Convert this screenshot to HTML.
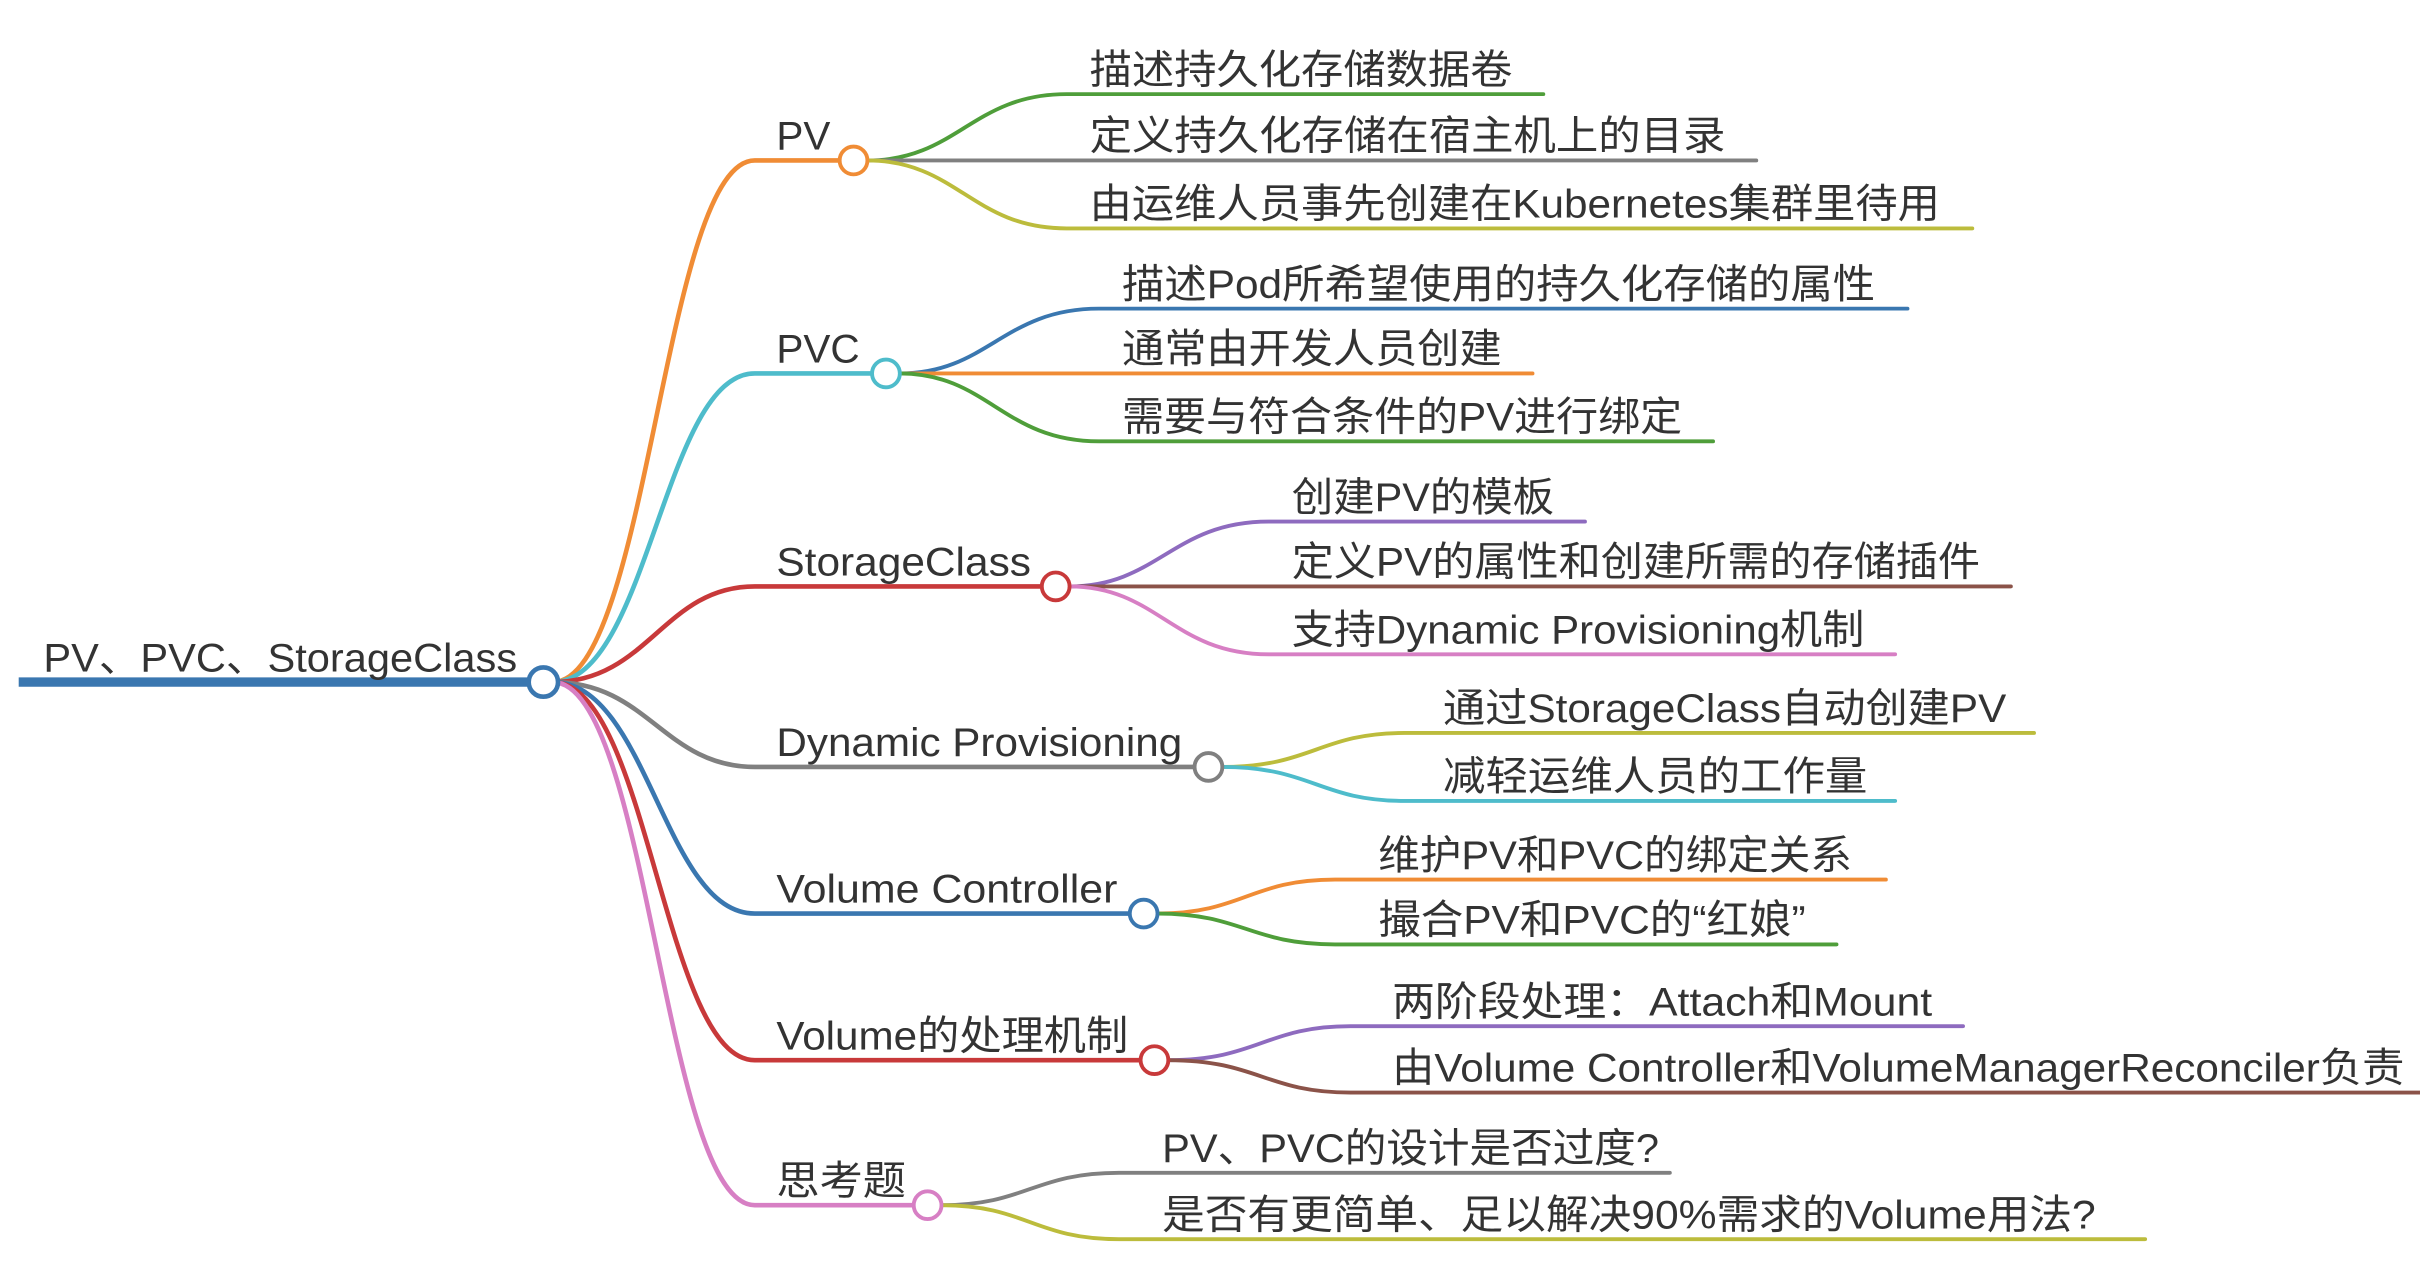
<!DOCTYPE html>
<html><head><meta charset="utf-8"><style>
html,body{margin:0;padding:0;background:#fff;}
svg{display:block;}
text{font-family:"Liberation Sans","Noto Sans CJK SC",sans-serif;fill:#333;font-size:26px;}
</style></head><body>
<svg width="2420" height="1270" viewBox="0 0 1568 823" xmlns="http://www.w3.org/2000/svg">
<g fill="none" stroke-linecap="round">
<!-- root branches -->
<path d="M358,442 C420,442 430,104 489,104 L553,104" stroke="#f08c35" stroke-width="3"/>
<path d="M358,442 C420,442 430,242 489,242 L574,242" stroke="#4ebccb" stroke-width="3"/>
<path d="M358,442 C420,442 430,380 489,380 L684,380" stroke="#c8393a" stroke-width="3"/>
<path d="M358,442 C420,442 430,497 489,497 L783,497" stroke="#808080" stroke-width="3"/>
<path d="M358,442 C420,442 430,592 489,592 L741,592" stroke="#3a77b0" stroke-width="3"/>
<path d="M358,442 C420,442 430,687 489,687 L748,687" stroke="#c8393a" stroke-width="3"/>
<path d="M358,442 C420,442 430,781 489,781 L601,781" stroke="#d77fc4" stroke-width="3"/>
<!-- PV children -->
<path d="M562,104 C620,104 630,61 691,61 L1000,61" stroke="#4f9e3a" stroke-width="2.5"/>
<path d="M562,104 L1138,104" stroke="#808080" stroke-width="2.5"/>
<path d="M562,104 C620,104 630,148 691,148 L1278,148" stroke="#bcbc3c" stroke-width="2.5"/>
<!-- PVC -->
<path d="M583,242 C640,242 650,200 712,200 L1236,200" stroke="#3a77b0" stroke-width="2.5"/>
<path d="M583,242 L993,242" stroke="#f08c35" stroke-width="2.5"/>
<path d="M583,242 C640,242 650,286 712,286 L1110,286" stroke="#4f9e3a" stroke-width="2.5"/>
<!-- SC -->
<path d="M693,380 C750,380 760,338 822,338 L1027,338" stroke="#8e6bbf" stroke-width="2.5"/>
<path d="M693,380 L1303,380" stroke="#8b5349" stroke-width="2.5"/>
<path d="M693,380 C750,380 760,424 822,424 L1228,424" stroke="#d77fc4" stroke-width="2.5"/>
<!-- DP -->
<path d="M792,497 C850,497 855,475 910,475 L1318,475" stroke="#bcbc3c" stroke-width="2.5"/>
<path d="M792,497 C850,497 855,519 910,519 L1228,519" stroke="#4ebccb" stroke-width="2.5"/>
<!-- VC -->
<path d="M750,592 C805,592 810,570 865,570 L1222,570" stroke="#f08c35" stroke-width="2.5"/>
<path d="M750,592 C805,592 810,612 865,612 L1190,612" stroke="#4f9e3a" stroke-width="2.5"/>
<!-- Vol -->
<path d="M757,687 C815,687 820,665 875,665 L1272,665" stroke="#8e6bbf" stroke-width="2.5"/>
<path d="M757,687 C815,687 820,708 875,708 L1568,708" stroke="#8b5349" stroke-width="2.5"/>
<!-- 思考题 -->
<path d="M610,781 C665,781 670,760 725,760 L1082,760" stroke="#808080" stroke-width="2.5"/>
<path d="M610,781 C665,781 670,803 725,803 L1390,803" stroke="#bcbc3c" stroke-width="2.5"/>
<!-- root line -->
<path d="M12,442 L345,442" stroke="#3a77b0" stroke-width="6" stroke-linecap="butt"/>
</g>
<g fill="#fff" stroke-width="2.5">
<circle cx="352" cy="442" r="9.5" stroke="#3a77b0" stroke-width="3"/>
<circle cx="553" cy="104" r="9" stroke="#f08c35"/>
<circle cx="574" cy="242" r="9" stroke="#4ebccb"/>
<circle cx="684" cy="380" r="9" stroke="#c8393a"/>
<circle cx="783" cy="497" r="9" stroke="#808080"/>
<circle cx="741" cy="592" r="9" stroke="#3a77b0"/>
<circle cx="748" cy="687" r="9" stroke="#c8393a"/>
<circle cx="601" cy="781" r="9" stroke="#d77fc4"/>
</g>
<g lengthAdjust="spacingAndGlyphs">
<text x="28" y="435" textLength="307" lengthAdjust="spacingAndGlyphs">PV、PVC、StorageClass</text>
<text x="503" y="97" textLength="35" lengthAdjust="spacingAndGlyphs">PV</text>
<text x="503" y="235" textLength="54" lengthAdjust="spacingAndGlyphs">PVC</text>
<text x="503" y="373" textLength="165" lengthAdjust="spacingAndGlyphs">StorageClass</text>
<text x="503" y="490" textLength="263" lengthAdjust="spacingAndGlyphs">Dynamic Provisioning</text>
<text x="503" y="585" textLength="221" lengthAdjust="spacingAndGlyphs">Volume Controller</text>
<text x="503" y="680" textLength="228" lengthAdjust="spacingAndGlyphs">Volume的处理机制</text>
<text x="503" y="774" textLength="84" lengthAdjust="spacingAndGlyphs">思考题</text>

<text x="706" y="54" textLength="274" lengthAdjust="spacingAndGlyphs">描述持久化存储数据卷</text>
<text x="706" y="97" textLength="412" lengthAdjust="spacingAndGlyphs">定义持久化存储在宿主机上的目录</text>
<text x="706" y="141" textLength="551" lengthAdjust="spacingAndGlyphs">由运维人员事先创建在Kubernetes集群里待用</text>
<text x="727" y="193" textLength="488" lengthAdjust="spacingAndGlyphs">描述Pod所希望使用的持久化存储的属性</text>
<text x="727" y="235" textLength="246" lengthAdjust="spacingAndGlyphs">通常由开发人员创建</text>
<text x="727" y="279" textLength="363" lengthAdjust="spacingAndGlyphs">需要与符合条件的PV进行绑定</text>
<text x="837" y="331" textLength="170" lengthAdjust="spacingAndGlyphs">创建PV的模板</text>
<text x="837" y="373" textLength="446" lengthAdjust="spacingAndGlyphs">定义PV的属性和创建所需的存储插件</text>
<text x="837" y="417" textLength="371" lengthAdjust="spacingAndGlyphs">支持Dynamic Provisioning机制</text>
<text x="935" y="468" textLength="365" lengthAdjust="spacingAndGlyphs">通过StorageClass自动创建PV</text>
<text x="935" y="512" textLength="275" lengthAdjust="spacingAndGlyphs">减轻运维人员的工作量</text>
<text x="893" y="563" textLength="307" lengthAdjust="spacingAndGlyphs">维护PV和PVC的绑定关系</text>
<text x="893" y="605" textLength="277" lengthAdjust="spacingAndGlyphs">撮合PV和PVC的“红娘”</text>
<text x="902" y="658" textLength="350" lengthAdjust="spacingAndGlyphs">两阶段处理：Attach和Mount</text>
<text x="902" y="701" textLength="656" lengthAdjust="spacingAndGlyphs">由Volume Controller和VolumeManagerReconciler负责</text>
<text x="753" y="753" textLength="322" lengthAdjust="spacingAndGlyphs">PV、PVC的设计是否过度?</text>
<text x="753" y="796" textLength="605" lengthAdjust="spacingAndGlyphs">是否有更简单、足以解决90%需求的Volume用法?</text>
</g>
</svg>
</body></html>
